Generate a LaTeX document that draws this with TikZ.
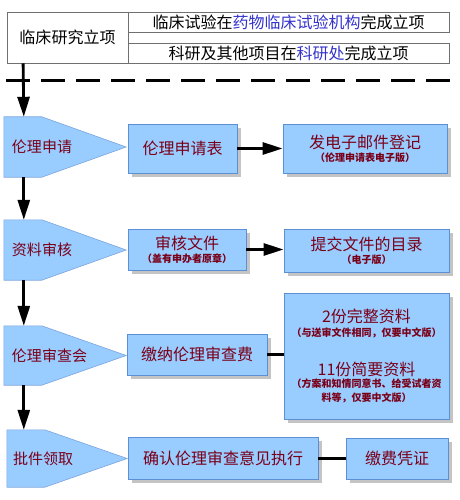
\documentclass[tikz,border=0pt]{standalone}
\usepackage{fontspec}
\setmainfont{Noto Sans CJK SC}
\usetikzlibrary{arrows.meta,shadows}
\definecolor{boxfill}{HTML}{99CCFF}
\definecolor{boxline}{HTML}{5B8FD6}
\definecolor{txtred}{HTML}{7A0018}
\definecolor{shade}{HTML}{C4C4C4}
\definecolor{hiblue}{HTML}{3333CC}
\definecolor{topline}{HTML}{707070}
\newcommand{\mysub}[1]{{\fontsize{10}{11}\selectfont\bfseries #1}}
\begin{document}
\begin{tikzpicture}[x=1pt,y=-1pt,
  bluebox/.style={draw=boxline, line width=0.8pt, fill=boxfill, inner sep=0pt,
    align=center, text=txtred, font=\fontsize{16}{18}\selectfont,
    drop shadow={shadow xshift=4pt, shadow yshift=-4pt, fill=shade, opacity=1}},
  topbox/.style={draw=topline, line width=0.8pt, fill=white, inner sep=0pt,
    font=\fontsize{16}{18}\selectfont},
  pentbox/.style={inner sep=0pt, minimum width=122pt, minimum height=60pt},
  pentshape/.style={draw=boxline!80, line width=0.6pt, fill=boxfill},
  penttext/.style={inner sep=0pt, anchor=west, text=txtred, font=\fontsize{15}{17}\selectfont},
  arr/.style={line width=2.8pt, -{Triangle[length=20pt,width=12pt]}},
  link/.style={line width=3pt},
  sepline/.style={line width=3pt, dash pattern=on 24pt off 11pt}
]
\useasboundingbox (0,0) rectangle (459,500);

% top boxes
\node[topbox, minimum width=121pt, minimum height=51pt] (topL) at (67.5,37.5) {临床研究立项};
\node[topbox, minimum width=321pt, minimum height=20pt] (topR1) at (288.5,22)
  {临床试验在\textcolor{hiblue}{药物临床试验机构}完成立项};
\node[topbox, minimum width=321pt, minimum height=20pt] (topR2) at (288.5,53)
  {科研及其他项目在\textcolor{hiblue}{科研处}完成立项};

% separator
\coordinate (dL) at (6,81);
\coordinate (dR) at (453,81);
\draw[sepline] (dL) -- (dR);

% pentagons
\node[pentbox] (p1) at (65,147) {};
\node[pentbox] (p2) at (65,250) {};
\node[pentbox, minimum height=59pt] (p3) at (65,355.5) {};
\node[pentbox, minimum width=120pt, minimum height=57pt] (p4) at (67,458.5) {};
\foreach \p in {p1,p2,p3,p4}{
  \draw[pentshape] (\p.north west) -- ([xshift=38pt]\p.north west) -- (\p.east)
    -- ([xshift=38pt]\p.south west) -- (\p.south west) -- cycle;
}
\node[penttext] (t1) at ([xshift=8pt]p1.west) {伦理申请};
\node[penttext] (t2) at ([xshift=8pt]p2.west) {资料审核};
\node[penttext] (t3) at ([xshift=8pt]p3.west) {伦理审查会};
\node[penttext] (t4) at ([xshift=6pt]p4.west) {批件领取};

% blue boxes
\node[bluebox, minimum width=109pt, minimum height=49pt] (b1) at (182.5,148.5) {伦理申请表};
\node[bluebox, minimum width=164pt, minimum height=49pt] (b2) at (365,148.5)
  {发电子邮件登记\\[-5pt]\mysub{（伦理申请表电子版）}};
\node[bluebox, minimum width=118pt, minimum height=41pt] (b3) at (187,249.5)
  {审核文件\\[-5pt]\mysub{（盖有申办者原章）}};
\node[bluebox, minimum width=165pt, minimum height=43pt] (b4) at (366.5,250.5)
  {提交文件的目录\\[-5pt]\mysub{（电子版）}};
\node[bluebox, minimum width=140pt, minimum height=41pt] (b5) at (197,354.5) {缴纳伦理审查费};
\node[bluebox, minimum width=165pt, minimum height=126pt] (b6) at (366.5,356)
  {2份完整资料\\[-4.4pt]\mysub{（与送审文件相同，仅要中文版）}\\[21.4pt]
   11份简要资料\\[-6.4pt]\mysub{（方案和知情同意书、给受试者资}\\[-4pt]\mysub{料等，仅要中文版）}};
\node[bluebox, minimum width=190pt, minimum height=42pt] (b7) at (223,458) {确认伦理审查意见执行};
\node[bluebox, minimum width=102pt, minimum height=41pt] (b8) at (397,458.5) {缴费凭证};

% connectors
\draw[arr] ([xshift=16.5pt]topL.south west) -- ([xshift=20pt]p1.north west);
\draw[arr] ([xshift=20pt]p1.south west) -- ([xshift=20pt]p2.north west);
\draw[arr] ([xshift=20pt]p2.south west) -- ([xshift=20pt]p3.north west);
\draw[arr] ([xshift=20pt]p3.south west) -- ([xshift=17pt]p4.north west);
\draw[arr] (b1.east) -- (b2.west);
\draw[arr] (b3.east) -- (b3.east -| b4.west);
\draw[link] (b5.east) -- (b5.east -| b6.west);
\draw[link] (b7.east) -- (b7.east -| b8.west);
\end{tikzpicture}
\end{document}
